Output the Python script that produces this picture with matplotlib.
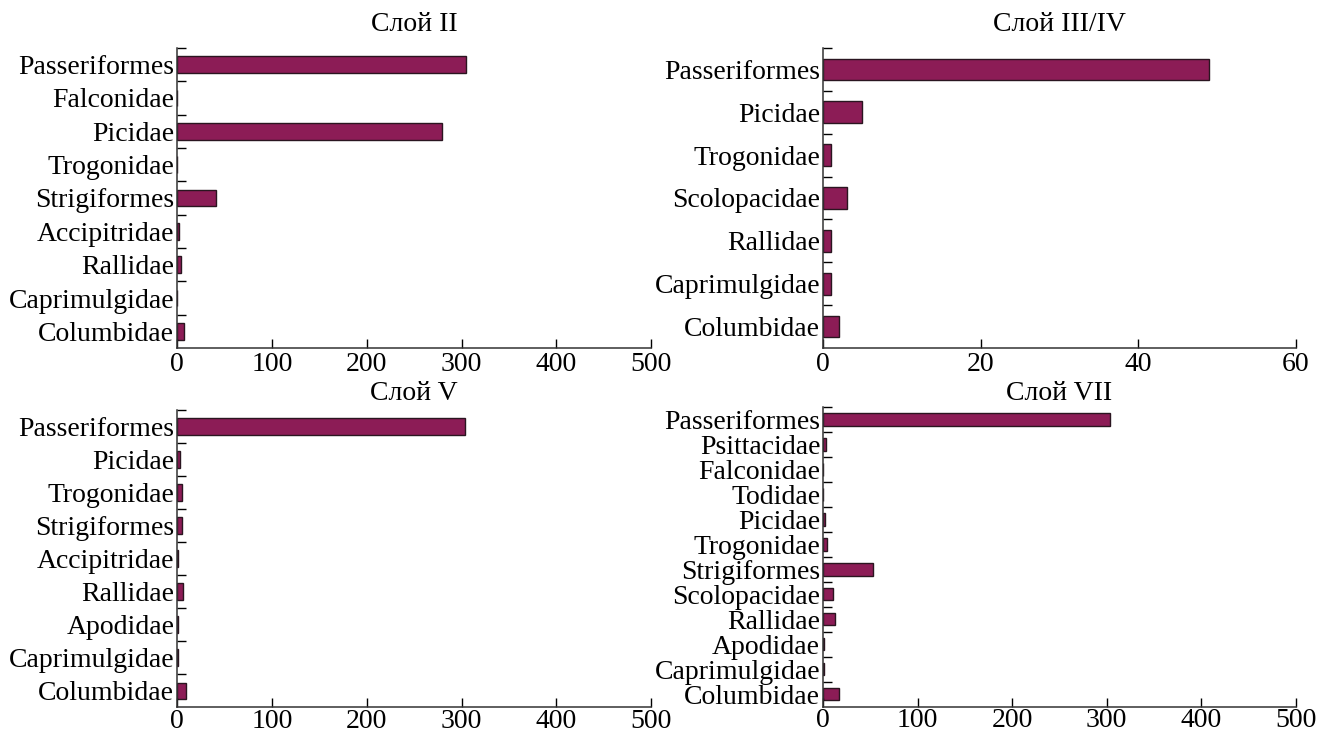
import numpy as np
import matplotlib
matplotlib.use('Agg')
import matplotlib.pyplot as plt
from matplotlib.ticker import FixedLocator

plt.rcParams['font.family'] = ['Liberation Serif', 'DejaVu Serif']

# categories listed top to bottom
titles = ['Слой II', 'Слой III/IV', 'Слой V', 'Слой VII']

cats_2 = ['Passeriformes', 'Falconidae', 'Picidae', 'Trogonidae', 'Strigiformes',
          'Accipitridae', 'Rallidae', 'Caprimulgidae', 'Columbidae']
vals_2 = [305, 0.5, 279, 0.5, 41, 2, 4, 0.5, 7]

cats_34 = ['Passeriformes', 'Picidae', 'Trogonidae', 'Scolopacidae', 'Rallidae',
           'Caprimulgidae', 'Columbidae']
vals_34 = [49, 5, 1, 3, 1, 1, 2]

cats_5 = ['Passeriformes', 'Picidae', 'Trogonidae', 'Strigiformes', 'Accipitridae',
          'Rallidae', 'Apodidae', 'Caprimulgidae', 'Columbidae']
vals_5 = [304, 3, 5, 5, 1, 6, 1, 1, 9]

cats_7 = ['Passeriformes', 'Psittacidae', 'Falconidae', 'Todidae', 'Picidae',
          'Trogonidae', 'Strigiformes', 'Scolopacidae', 'Rallidae', 'Apodidae',
          'Caprimulgidae', 'Columbidae']
vals_7 = [303, 3, 0.5, 0.5, 2, 4, 53, 11, 13, 1, 1, 17]

xmax = [500, 60, 500, 500]
xticks = [[0, 100, 200, 300, 400, 500], [0, 20, 40, 60],
          [0, 100, 200, 300, 400, 500], [0, 100, 200, 300, 400, 500]]

bar_color = '#8c1c56'
edge_color = '#2a1520'

fig = plt.figure(figsize=(13.21, 7.36), dpi=100)

# axes boxes [left, bottom, width, height] in figure fraction
boxes = [[0.134, 0.527, 0.359, 0.408],
         [0.623, 0.527, 0.358, 0.408],
         [0.134, 0.039, 0.359, 0.404],
         [0.623, 0.040, 0.358, 0.407]]
title_pads = [12, 12, 7, 5]
xlabel_pads = [3, 3, 1, 1]

data = [(cats_2, vals_2), (cats_34, vals_34), (cats_5, vals_5), (cats_7, vals_7)]

for i, (cats, vals) in enumerate(data):
	ax = fig.add_axes(boxes[i])
	n = len(cats)
	pos = np.arange(n)[::-1]
	ax.barh(pos, vals, height=0.5, color=bar_color, edgecolor=edge_color, linewidth=1.0)
	ax.set_ylim(-0.5, n - 0.5)
	ax.set_xlim(0, xmax[i])
	ax.set_yticks(pos)
	ax.set_yticklabels(cats, fontsize=20)
	ax.yaxis.set_minor_locator(FixedLocator(np.arange(n) + 0.5))
	ax.tick_params(axis='y', which='major', length=0, pad=2)
	ax.tick_params(axis='y', which='minor', direction='in', length=6.5, width=1.0)
	ax.set_xticks(xticks[i])
	ax.tick_params(axis='x', direction='in', length=6.5, width=1.0, labelsize=20,
	               pad=xlabel_pads[i])
	for s in ['top', 'right']:
		ax.spines[s].set_visible(False)
	for s in ['left', 'bottom']:
		ax.spines[s].set_linewidth(1.1)
		ax.spines[s].set_color('#333333')
	ax.set_title(titles[i], fontsize=20, pad=title_pads[i])

fig.savefig('out.png', dpi=100)
